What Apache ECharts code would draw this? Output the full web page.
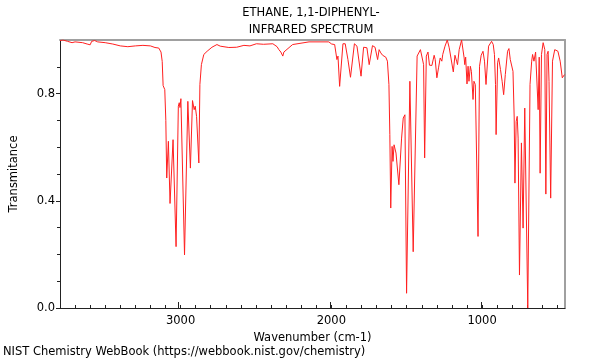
<!DOCTYPE html>
<html>
<head>
<meta charset="utf-8">
<script src="https://cdn.jsdelivr.net/npm/echarts@6/dist/echarts.min.js"></script>
<style>html,body{margin:0;padding:0;background:#fff}#c{width:600px;height:360px}</style>
</head>
<body>
<div id="c"></div>
<script>
// Wavenumber (cm-1) and transmittance
const wavenumbers = [3800,3780,3750,3720,3700,3650,3620,3600,3590,3570,3550,3500,3450,3400,3350,3300,3250,3200,3170,3145,3130,3122,3116,3105,3098,
3092,3081,3070,3050,3030,3015,3009,3004,2998,2974,2952,2943,2935,2921,2910,2903,2894,2879,2872,2862,2846,2824,2792,2759,2737,2680,2628,2580,2540,2497,2450,2388,2360,2348,2335,2322,2315,2305,2257,2148,2017,1998,1978,
1963,1956,1945,1923,1908,1890,1884,1873,1847,1830,1803,1786,1764,1749,1727,1710,1693,1683,1672,1660,1639,1628,1618,1612,1606,1597,1591,1584,1575,1571,1552,1534,1523,1512,1501,1479,1457,1431,1425,1409,1388,1381,1370,1359,1349,1339,1333,1318,1311,1300,1289,1278,1267,1261,1246,1231,1218,1191,1180,1169,1163,1152,1136,1119,1115,1109,1100,1093,1087,1078,1071,1060,1054,1045,1027,1017,1006,994,984,974,957,937,926,918,911,907,
897,890,878,867,857,846,831,822,813,807,795,787,782,774,767,761,752,739,728,717,697,682,671,665,656,645,637,628,621,615,606,595,584,577,569,562,556,545,533,518,497,482,468,453];
const transmittance = [0.998,1.0,0.995,0.99,0.993,0.99,0.985,0.982,0.995,0.998,0.993,0.99,0.985,0.978,0.975,0.978,0.98,0.978,0.972,0.97,0.955,0.92,0.83,0.815,0.70,
0.485,0.622,0.39,0.628,0.229,0.753,0.766,0.748,0.781,0.198,0.771,0.766,0.522,0.774,0.74,0.753,0.715,0.541,0.834,0.908,0.946,0.958,0.973,0.983,0.977,0.972,0.973,0.98,0.978,0.986,0.984,0.986,0.975,0.964,0.955,0.94,0.955,0.961,0.983,0.993,0.993,0.985,0.983,
0.927,0.94,0.827,0.986,0.986,0.927,0.933,0.861,0.986,0.977,0.865,0.973,0.971,0.908,0.979,0.973,0.927,0.964,0.952,0.943,0.936,0.921,0.834,0.647,0.373,0.603,0.547,0.609,0.605,0.578,0.46,0.634,0.709,0.721,0.055,0.846,0.21,0.94,0.946,0.964,0.908,0.56,0.94,0.955,0.906,0.911,0.905,0.943,0.927,0.859,0.896,0.933,0.921,0.946,0.977,1.0,0.971,0.881,0.943,0.921,0.908,0.964,1.0,0.933,0.908,0.936,0.836,0.902,0.846,0.902,0.883,0.778,0.846,0.834,0.267,0.902,0.943,0.958,0.921,0.834,0.977,0.995,0.983,0.946,0.834,0.647,
0.915,0.933,0.89,0.846,0.796,0.871,0.958,0.968,0.927,0.933,0.883,0.709,0.466,0.696,0.715,0.634,0.123,0.616,0.298,0.746,0.0,0.834,0.921,0.946,0.921,0.955,0.952,0.74,0.936,0.503,0.946,0.99,0.964,0.425,0.946,0.958,0.846,0.41,0.921,0.964,0.958,0.921,0.859,0.871];
const xMajorTicks = [1000, 2000, 3000];
const xMinorTicks = [500,600,700,800,900,1000,1100,1200,1300,1400,1500,1600,1700,1800,1900,2000,2100,2200,2300,2400,2500,2600,2700,2800,2900,3000,3100,3200,3300,3400,3500,3600,3700];
const yMajorTicks = [0, 0.4, 0.8];
const yMinorTicks = [0,0.1,0.2,0.3,0.4,0.5,0.6,0.7,0.8,0.9];
const titleLines = ['ETHANE, 1,1-DIPHENYL-', 'INFRARED SPECTRUM'];

const FONT = 'DejaVu Sans';
const FS = 11.5;
const xMin = 450, xMax = 3800;
const chart = echarts.init(document.getElementById('c'), null, {renderer: 'canvas'});
const seriesData = wavenumbers.map((w, i) => [w, transmittance[i]]);
const gridRect = {left: 57, right: 35, top: 40, bottom: 52, containLabel: false};
const tickColor = '#222';

chart.setOption({
  animation: false,
  backgroundColor: '#fff',
  textStyle: {fontFamily: FONT},
  title: {
    text: titleLines.join('\n'),
    left: 311, top: 5, padding: 0, textAlign: 'center',
    textStyle: {fontSize: FS, fontWeight: 'normal', color: '#000', lineHeight: 17, fontFamily: FONT}
  },
  grid: [Object.assign({}, gridRect), Object.assign({}, gridRect)],
  xAxis: [
    {gridIndex: 0, type: 'value', min: xMin, max: xMax, inverse: true, position: 'bottom',
     name: 'Wavenumber (cm-1)', nameLocation: 'middle', nameGap: 17,
     nameTextStyle: {fontSize: FS, color: '#000', fontFamily: FONT},
     axisLine: {show: true, onZero: false, lineStyle: {color: tickColor, width: 1}},
     axisTick: {show: true, inside: true, length: 3, customValues: xMinorTicks, lineStyle: {color: tickColor}},
     axisLabel: {show: true, customValues: xMajorTicks, margin: 7, fontSize: FS, color: '#000', fontFamily: FONT,
       formatter: v => String(v)},
     splitLine: {show: false}},
    {gridIndex: 0, type: 'value', min: xMin, max: xMax, inverse: true, position: 'top',
     axisLine: {show: true, onZero: false, lineStyle: {color: '#a0a0a0', width: 2}},
     axisTick: {show: false}, axisLabel: {show: false}, splitLine: {show: false}},
    {gridIndex: 1, type: 'value', min: xMin, max: xMax, inverse: true, position: 'bottom',
     axisLine: {show: false, onZero: false},
     axisTick: {show: true, inside: true, length: 6, customValues: xMajorTicks, lineStyle: {color: tickColor}},
     axisLabel: {show: false}, splitLine: {show: false}}
  ],
  yAxis: [
    {gridIndex: 0, type: 'value', min: 0, max: 1.0, position: 'left',
     name: 'Transmitance', nameLocation: 'middle', nameGap: 40, nameRotate: 90,
     nameTextStyle: {fontSize: FS, color: '#000', fontFamily: FONT},
     axisLine: {show: true, onZero: false, lineStyle: {color: tickColor, width: 1}},
     axisTick: {show: true, inside: false, length: 4, customValues: yMajorTicks, lineStyle: {color: tickColor}},
     axisLabel: {show: true, customValues: yMajorTicks, margin: 5, fontSize: FS, color: '#000', fontFamily: FONT,
       formatter: v => Number(v).toFixed(1)},
     splitLine: {show: false}},
    {gridIndex: 0, type: 'value', min: 0, max: 1.0, position: 'right',
     axisLine: {show: true, onZero: false, lineStyle: {color: '#a0a0a0', width: 2}},
     axisTick: {show: false}, axisLabel: {show: false}, splitLine: {show: false}},
    {gridIndex: 1, type: 'value', min: 0, max: 1.0, position: 'left',
     axisLine: {show: false, onZero: false},
     axisTick: {show: true, inside: true, length: 4, customValues: yMinorTicks, lineStyle: {color: tickColor}},
     axisLabel: {show: false}, splitLine: {show: false}}
  ],
  graphic: [
    {type: 'text', left: 3, top: 346,
     style: {text: 'NIST Chemistry WebBook (https://webbook.nist.gov/chemistry)', fontSize: FS, fill: '#000', fontFamily: FONT}}
  ],
  series: [{
    type: 'line', xAxisIndex: 0, yAxisIndex: 0, data: seriesData,
    showSymbol: false, smooth: false,
    lineStyle: {color: '#ff2020', width: 1},
    clip: true
  }]
});
</script>
</body>
</html>
